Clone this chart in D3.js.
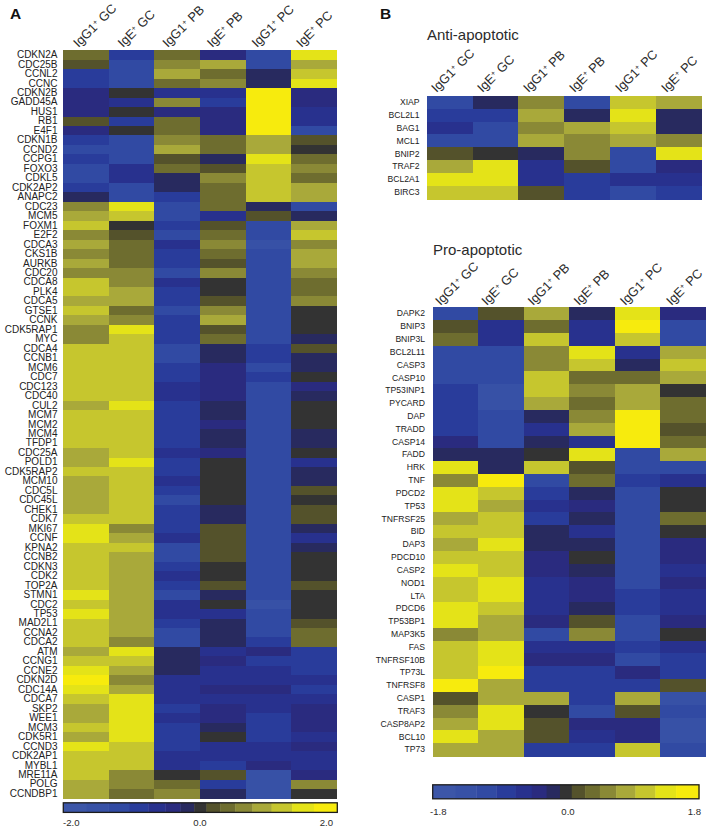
<!DOCTYPE html>
<html><head><meta charset="utf-8">
<script src="https://cdnjs.cloudflare.com/ajax/libs/d3/7.8.5/d3.min.js"></script>
<style>html,body{margin:0;padding:0;background:#fff}svg{display:block}text{font-family:"Liberation Sans",Arial,sans-serif;fill:#2b2b2b}</style>
</head><body><svg id="c" width="709" height="830"></svg>
<script>
const samples=["IgG1|GC","IgE|GC","IgG1|PB","IgE|PB","IgG1|PC","IgE|PC"];
const palette=["#3c56a8","#3751a6","#314aa3","#293c9b","#28318e","#2a2b7f","#282a5f","#333333","#54522b","#6e6d2f","#8a8936","#a9a93a","#c6c62e","#e4e318","#f7eb0d"];
const breaksA=[-1.66,-1.34,-1.04,-0.76,-0.51,-0.29,-0.09,0.09,0.29,0.51,0.76,1.04,1.34,1.66];
const breaksB=[-1.49,-1.21,-0.94,-0.68,-0.46,-0.26,-0.08,0.08,0.26,0.46,0.68,0.94,1.21,1.49];
const genesA=["CDKN2A","CDC25B","CCNL2","CCNC","CDKN2B","GADD45A","HUS1","RB1","E4F1","CDKN1B","CCND2","CCPG1","FOXO3","CDKL5","CDK2AP2","ANAPC2","CDC23","MCM5","FOXM1","E2F2","CDCA3","CKS1B","AURKB","CDC20","CDCA8","PLK4","CDCA5","GTSE1","CCNK","CDK5RAP1","MYC","CDCA4","CCNB1","MCM6","CDC7","CDC123","CDC40","CUL2","MCM7","MCM2","MCM4","TFDP1","CDC25A","POLD1","CDK5RAP2","MCM10","CDC5L","CDC45L","CHEK1","CDK7","MKI67","CCNF","KPNA2","CCNB2","CDKN3","CDK2","TOP2A","STMN1","CDC2","TP53","MAD2L1","CCNA2","CDCA2","ATM","CCNG1","CCNE2","CDKN2D","CDC14A","CDCA7","SKP2","WEE1","MCM3","CDK5R1","CCND3","CDK2AP1","MYBL1","MRE11A","POLG","CCNDBP1"];
const valuesA=[
[.4,-.9,.4,-.4,-1.2,1.5],[.2,-1.2,.6,.9,-1.2,.9],[-.9,-1.2,.9,.4,-.2,1.2],[-.9,-1.2,.4,.6,-.2,1.5],
[-.4,0,-.6,-.6,1.8,-.4],[-.4,-.6,.6,-.9,1.8,-.4],[-.4,0,-.4,-.4,1.8,-.6],[.2,-.9,.4,-.4,1.8,-.6],[-.4,0,.4,-.4,1.8,-1.2],
[-.9,-1.2,.6,.4,.9,.2],[-1.2,-1.2,.9,.4,.9,0],[-.9,-1.2,.2,-.2,1.5,.4],[-1.2,-.6,.4,.1,1.2,.6],[-1.2,-.6,-.2,.6,1.2,.4],[-.9,-1.2,-.2,.4,1.2,.9],[-.2,-1.2,-.9,.4,1.2,.9],
[.6,1.5,-1.2,.4,-.2,-1.2],[.9,1.2,-1.2,-.6,.2,-.2],[1.2,0,-.9,.2,-1.2,.9],[.6,.2,-1.2,.4,-1.2,1.2],[.9,.4,-.6,.6,-1.5,.6],[.6,.4,-.9,.4,-1.2,.9],[.9,.4,-.9,.2,-1.2,.9],[.6,.6,-1.2,.6,-1.2,.6],
[1.2,.6,-.6,0,-1.2,.4],[1.2,.9,-.9,0,-1.2,.4],[.9,.9,-.9,.2,-1.2,.6],[1.2,.4,-1.2,.6,-1.2,0],[.9,.6,-.9,.9,-1.2,0],[.6,1.5,-.9,.2,-1.2,0],[.6,1.2,-.9,.4,-1.2,-.2],
[1.2,1.2,-1.2,-.2,-.9,.2],[1.2,1.2,-1.2,-.2,-.9,-.2],[1.2,1.2,-.9,-.4,-1.2,-.2],[1.2,1.2,-.9,-.4,-.9,0],[1.2,1.2,-.6,-.4,-1.2,-.4],[1.2,1.2,-.6,-.4,-1.2,-.2],[.9,1.5,-.9,-.2,-1.2,0],
[1.2,1.2,-.9,-.2,-1.2,0],[1.2,1.2,-.9,-.4,-1.2,0],[1.2,1.2,-.9,-.2,-1.2,-.2],[1.2,1.2,-.9,-.2,-1.2,-.2],[.9,1.2,-.6,-.4,-1.2,0],[.9,1.5,-.9,0,-1.2,-.6],[1.2,1.2,-.9,0,-1.2,-.2],[.9,1.2,-.6,0,-1.2,-.2],[.9,1.2,-.9,0,-1.2,.2],[.9,1.2,-1.2,0,-1.2,0],[.9,1.2,-.9,-.2,-1.2,.2],[1.2,1.2,-.9,-.2,-1.2,.2],
[1.5,.6,-.9,.2,-1.2,-.2],[1.5,.9,-.6,.2,-1.2,-.6],[1.2,1.2,-1.2,.2,-1.2,-.2],[1.2,.9,-1.2,.2,-1.2,0],[1.2,.9,-.9,0,-1.2,0],[1.2,.9,-.6,0,-1.2,0],[1.2,.9,-.9,.2,-1.2,.1],[1.5,.9,-1.2,-.2,-1.2,0],[1.2,.9,-.6,0,-1.5,0],[1.5,.9,-.6,-.6,-1.2,0],[1.2,.9,-.9,-.2,-1.2,.2],[1.2,.9,-1.2,-.2,-1.2,.4],[1.2,.6,-1.2,-.2,-.9,.4],
[.8,1.5,-.2,-.6,-.5,-.9],[1.2,1.2,-.2,-.4,-.9,-.9],[1.5,.9,-.2,-.6,-.6,-.9],[1.8,.6,-.6,-.6,-.6,-.6],[1.5,.9,-.6,-.4,-.4,-.9],[1.2,1.5,-.6,-.6,-.6,-.6],[.9,1.5,-.9,-.4,-.6,-.4],[.9,1.5,-.6,-.4,-.9,-.4],[1.2,1.5,-.9,-.2,-.9,-.4],[.9,1.5,-.9,0,-.9,-.6],[1.5,1.2,-.9,-.6,-.6,-.4],[1.2,1.2,-.6,-.6,-.6,-.6],[1.3,1.2,-.6,-.9,-.4,-.6],
[1.2,.6,0,.2,-1.5,-.4],[.9,.6,.4,-.9,-1.5,.6],[.9,.4,.6,-.2,-1.5,0]];
const genesAnti=["XIAP","BCL2L1","BAG1","MCL1","BNIP2","TRAF2","BCL2A1","BIRC3"];
const valuesAnti=[[-1.1,-.2,.6,-1.1,1.1,.8],[-.8,-.8,.8,-.2,1.4,-.2],[-.6,-1.1,.6,.8,1.1,-.2],[-1.1,-1.1,.8,.6,.8,.6],[.2,0,-.2,.6,-1.1,1.4],[.8,1.4,-.6,.2,-1.1,-.4],[1.4,1.4,-.6,-.8,-.6,-.6],[1.1,1.1,.2,-.8,-1.1,-.8]];
const genesPro=["DAPK2","BNIP3","BNIP3L","BCL2L11","CASP3","CASP10","TP53INP1","PYCARD","DAP","TRADD","CASP14","FADD","HRK","TNF","PDCD2","TP53","TNFRSF25","BID","DAP3","PDCD10","CASP2","NOD1","LTA","PDCD6","TP53BP1","MAP3K5","FAS","TNFRSF10B","TP73L","TNFRSF8","CASP1","TRAF3","CASP8AP2","BCL10","TP73"];
const valuesPro=[[-1.1,.2,.8,-.2,1.4,-.4],[.2,-.6,.4,-.6,1.7,-1.1],[.4,-.6,1.1,-.6,1.1,-1.1],[-1.1,-1.1,.6,1.4,-.6,.8],[-1.1,-1.1,.6,1.1,-.2,1.1],[-1.1,-1.1,1.1,.4,.4,.8],[-.8,-1.4,1.1,.6,.8,0],[-.8,-1.4,.8,.4,.8,.4],[-.8,-1.1,-.2,.6,1.7,.4],[-.8,-1.1,-.6,.8,1.7,.2],[-.4,-1.1,-.2,-.6,1.7,.4],
[-.2,-.2,0,1.4,-1.1,.8],[1.4,-.2,1,.2,-1.1,-1.1],[.6,1.7,-1.1,.4,-.8,-.6],[1.4,1.1,-.8,-.2,-1.1,0],[1.4,.8,-.6,-.4,-1.1,0],[.8,1.1,-.8,-.2,-1.1,.4],[1.1,1.1,-.2,-.6,-1.1,0],[.8,1.4,-.2,-.2,-1.1,-.4],[1.1,1.1,-.4,0,-1.1,-.4],[1.4,1.1,-.4,-.2,-1.1,-.6],[1.1,1.4,-.6,-.4,-1.1,-.4],[1.1,1.4,-.6,-.4,-.8,-.6],[1.4,1.1,-.6,-.2,-.8,-.6],[1.4,.8,-.4,.2,-1.1,-.4],[.6,.8,-1.1,.6,-1.1,0],
[1.1,1.4,-.6,-.6,-.8,-.6],[1.1,1.4,-.4,-.4,-1.1,-.8],[1.1,1.7,-.8,-.8,-.4,-.8],[1.7,.8,-.8,-.8,-.8,.2],[.1,.8,.8,-.8,.8,-1.4],[.6,1.4,0,-1.1,.2,-1.1],[.8,1.4,.2,-.4,-.4,-1.4],[1.4,.8,.2,-.6,-.4,-1.4],[.8,.8,-.8,-.8,1.1,-1.1]];
const colourA=d3.scaleThreshold().domain(breaksA).range(palette);
const colourB=d3.scaleThreshold().domain(breaksB).range(palette);
const svg=d3.select("#c");

function heat(o){
  const x=d3.scaleBand().domain(d3.range(samples.length)).range(o.xr);
  const y=d3.scaleBand().domain(o.genes).range(o.yr);
  const g=svg.append("g");
  o.values.forEach((row,i)=>{
    g.selectAll(null).data(row).join("rect")
      .attr("x",(d,j)=>x(j)).attr("y",y(o.genes[i]))
      .attr("width",x.bandwidth()+.5).attr("height",y.bandwidth()+.5)
      .attr("shape-rendering","crispEdges")
      .attr("fill",d=>o.colour(d));
  });
  svg.append("g").attr("transform",`translate(${o.labelX},0)`)
    .call(d3.axisLeft(y).tickSize(0).tickPadding(0))
    .call(a=>a.select(".domain").remove())
    .selectAll("text").attr("font-size",o.labelSize).attr("font-family",null).style("fill","#222");
  const hx=d3.scalePoint().domain(d3.range(samples.length)).range(o.hx);
  samples.forEach((s,j)=>{
    const [a,b]=s.split("|");
    const t=svg.append("text").attr("font-size",12.8)
      .attr("transform",`translate(${hx(j)},${o.hy}) rotate(-45)`);
    t.append("tspan").text(a);
    t.append("tspan").text("+").attr("font-size",7.5).attr("dy",-4);
    t.append("tspan").text(" "+b).attr("dy",4);
  });
}
heat({genes:genesA,values:valuesA,colour:colourA,xr:[63.3,336.8],yr:[50.2,798.5],labelX:57.5,labelSize:10,hx:[78.5,301.5],hy:48});
heat({genes:genesAnti,values:valuesAnti,colour:colourB,xr:[426.7,701.7],yr:[95.7,199],labelX:419.5,labelSize:8.6,hx:[436.5,666.5],hy:93});
heat({genes:genesPro,values:valuesPro,colour:colourB,xr:[433,705.7],yr:[307.3,756],labelX:425,labelSize:8.6,hx:[440.5,671.5],hy:306});

function bar(o){
  const x=d3.scaleLinear().domain([-o.max,o.max]).range(o.xr);
  const edges=[-o.max,...o.breaks,o.max];
  svg.append("g").selectAll("rect").data(palette).join("rect")
    .attr("x",(c,i)=>x(edges[i])).attr("width",(c,i)=>x(edges[i+1])-x(edges[i])+.4)
    .attr("y",o.y).attr("height",o.h).attr("fill",c=>c);
  svg.append("rect").attr("x",o.xr[0]).attr("y",o.y).attr("width",o.xr[1]-o.xr[0]).attr("height",o.h)
    .attr("fill","none").attr("stroke","#1c1c1c").attr("stroke-width",1.3);
  o.ticks.forEach(t=>svg.append("text").attr("x",t[1]).attr("y",o.ty).attr("font-size",9.6).attr("text-anchor",t[2]).text(t[0]));
}
bar({max:2.0,breaks:breaksA,xr:[63.3,337.3],y:802.8,h:9.6,ty:826,ticks:[["-2.0",63,"start"],["0.0",200,"middle"],["2.0",333,"end"]]});
bar({max:1.8,breaks:breaksB,xr:[432.7,699],y:784.8,h:14,ty:814.5,ticks:[["-1.8",430,"start"],["0.0",568,"middle"],["1.8",701,"end"]]});

svg.append("text").attr("x",10).attr("y",19).attr("font-size",15.5).attr("font-weight","bold").style("fill","#111").text("A");
svg.append("text").attr("x",380).attr("y",19).attr("font-size",15.5).attr("font-weight","bold").style("fill","#111").text("B");
svg.append("text").attr("x",427).attr("y",40).attr("font-size",15).text("Anti-apoptotic");
svg.append("text").attr("x",433).attr("y",255).attr("font-size",15).text("Pro-apoptotic");
</script></body></html>
